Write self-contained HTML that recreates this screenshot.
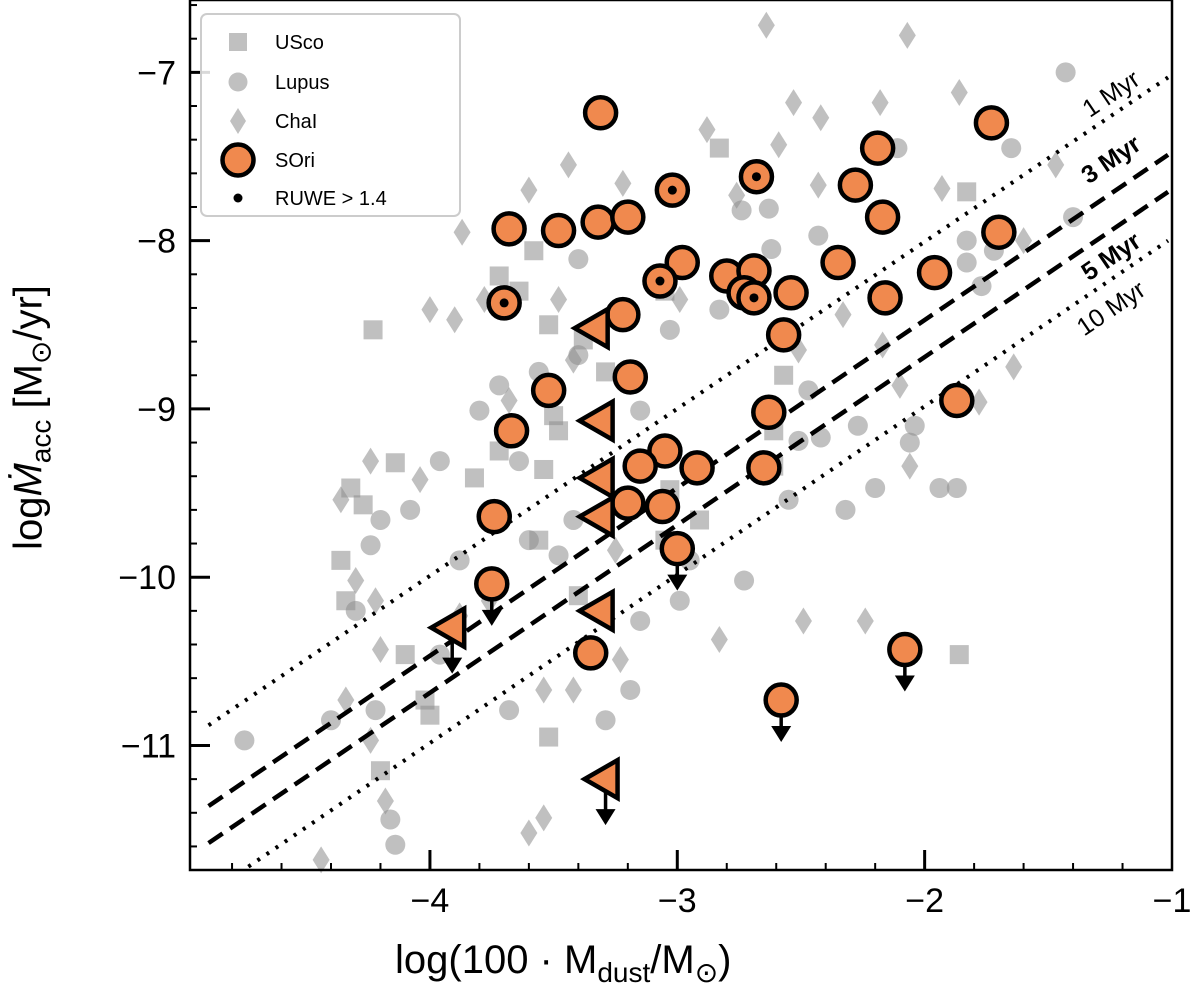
<!DOCTYPE html>
<html><head><meta charset="utf-8"><style>
body{margin:0;background:#fff;font-family:"Liberation Sans","DejaVu Sans",sans-serif}
svg{display:block}
</style></head><body>
<svg id="chart" width="1200" height="991" viewBox="0 0 1200 991" xmlns="http://www.w3.org/2000/svg">
<g id="gray"></g>
<g id="lines"></g>
<g id="orange"></g>
<g id="axes"></g>
<g id="legend"></g>
</svg>
<script>
const xDomain=[-4.97,-1], yDomain=[-11.74,-6.57];
const xTicks=[-4,-3,-2,-1], yTicks=[-7,-8,-9,-10,-11];
const uscoX=[-3.72,-3.58,-3.64,-3.52,-4.23,-3.50,-3.38,-3.29,-2.83,-3.05,-3.03,-3.05,-2.91,-2.57,-2.61,-2.61,-4.14,-4.32,-4.27,-4.36,-4.34,-4.10,-4.00,-4.20,-3.52,-3.40,-3.56,-3.48,-3.72,-3.82,-3.54,-4.02,-1.83,-1.86];
const uscoY=[-8.21,-8.06,-8.30,-8.50,-8.53,-9.04,-8.59,-8.78,-7.45,-8.30,-9.48,-9.78,-9.66,-8.80,-9.13,-9.34,-9.32,-9.47,-9.57,-9.90,-10.14,-10.46,-10.82,-11.15,-10.95,-10.11,-9.78,-9.13,-9.25,-9.41,-9.36,-10.73,-7.71,-10.46];
const lupusX=[-2.47,-2.51,-2.55,-2.73,-2.95,-3.15,-3.40,-3.56,-3.72,-3.80,-3.64,-3.96,-4.08,-4.20,-4.24,-3.88,-3.60,-3.42,-3.48,-3.15,-2.99,-3.19,-3.68,-3.96,-4.22,-4.40,-4.16,-4.14,-4.75,-4.30,-3.29,-2.43,-2.63,-2.83,-3.03,-3.40,-2.74,-2.62,-1.43,-2.11,-1.65,-1.40,-1.83,-1.83,-1.72,-1.77,-2.27,-2.42,-2.04,-2.06,-2.20,-2.32,-1.94,-1.87];
const lupusY=[-8.89,-9.19,-9.54,-10.02,-9.90,-9.01,-8.68,-8.78,-8.86,-9.01,-9.31,-9.31,-9.60,-9.66,-9.81,-9.90,-9.78,-9.66,-9.87,-10.26,-10.14,-10.67,-10.79,-10.46,-10.79,-10.85,-11.44,-11.59,-10.97,-10.20,-10.85,-7.97,-7.81,-8.41,-8.53,-8.11,-7.82,-8.05,-7.00,-7.45,-7.45,-7.86,-8.00,-8.13,-8.06,-8.27,-9.10,-9.17,-9.10,-9.20,-9.47,-9.60,-9.47,-9.47];
const chaX=[-2.64,-2.53,-2.42,-2.59,-2.76,-2.43,-2.88,-3.22,-3.44,-3.60,-3.87,-4.00,-3.90,-3.78,-3.48,-2.99,-2.33,-2.51,-3.42,-3.68,-4.04,-4.24,-4.36,-4.22,-4.30,-4.20,-4.24,-4.34,-4.18,-3.88,-3.76,-3.54,-3.42,-3.23,-3.60,-3.54,-2.83,-2.49,-3.25,-4.44,-2.07,-2.18,-1.86,-1.47,-1.93,-1.60,-2.17,-1.64,-2.10,-1.78,-2.06,-2.24];
const chaY=[-6.72,-7.18,-7.27,-7.43,-7.73,-7.67,-7.34,-7.66,-7.55,-7.70,-7.95,-8.41,-8.47,-8.35,-8.35,-8.35,-8.44,-8.65,-8.71,-8.95,-9.42,-9.31,-9.54,-10.14,-10.02,-10.43,-10.97,-10.73,-11.33,-10.23,-10.14,-10.67,-10.67,-10.49,-11.52,-11.43,-10.37,-10.26,-9.84,-11.68,-6.78,-7.18,-7.12,-7.55,-7.69,-8.00,-8.62,-8.75,-8.86,-8.96,-9.34,-10.26];
const soriX=[-3.31,-1.73,-2.19,-2.68,-3.02,-2.28,-2.17,-1.70,-3.68,-3.48,-3.32,-3.20,-2.98,-3.07,-2.80,-2.69,-2.73,-2.69,-2.54,-2.35,-1.96,-2.16,-3.70,-3.22,-2.57,-3.19,-3.52,-2.63,-3.67,-3.05,-3.15,-2.92,-2.65,-3.20,-3.06,-1.87,-3.74,-3.00,-3.75,-3.35,-2.08,-2.58];
const soriY=[-7.24,-7.30,-7.45,-7.62,-7.70,-7.67,-7.86,-7.95,-7.93,-7.94,-7.89,-7.86,-8.13,-8.24,-8.21,-8.18,-8.31,-8.34,-8.31,-8.13,-8.19,-8.34,-8.37,-8.44,-8.56,-8.81,-8.89,-9.02,-9.13,-9.25,-9.34,-9.35,-9.35,-9.56,-9.58,-8.95,-9.64,-9.83,-10.04,-10.45,-10.43,-10.73];
const soriRuwe=[0,0,0,1,1,0,0,0,0,0,0,0,0,1,0,0,0,1,0,0,0,0,1,0,0,0,0,0,0,0,0,0,0,0,0,0,0,0,0,0,0,0];
const soriUL=[0,0,0,0,0,0,0,0,0,0,0,0,0,0,0,0,0,0,0,0,0,0,0,0,0,0,0,0,0,0,0,0,0,0,0,0,0,1,1,0,1,1];
const triX=[-3.33,-3.31,-3.31,-3.31,-3.31,-3.91,-3.29];
const triY=[-8.52,-9.07,-9.41,-9.64,-10.20,-10.30,-11.20];
const triUL=[0,0,0,0,0,1,1];
const lineNames=["1 Myr","3 Myr","5 Myr","10 Myr"];
const lineX0=[-4.895,-4.895,-4.895,-4.734], lineY0=[-10.88,-11.36,-11.58,-11.72];
const lineX1=[-1.016,-1.016,-1.016,-1.016], lineY1=[-7.03,-7.49,-7.71,-8.00];

const L=190,R=1172,T=0,B=870;
const sx=v=>L+(v-xDomain[0])/(xDomain[1]-xDomain[0])*(R-L);
const sy=v=>B-(v-yDomain[0])/(yDomain[1]-yDomain[0])*(B-T);
const NS="http://www.w3.org/2000/svg";
function mk(tag,attrs,parent){const e=document.createElementNS(NS,tag);for(const k in attrs)e.setAttribute(k,attrs[k]);parent.appendChild(e);return e;}
const gray=document.getElementById('gray'),lines=document.getElementById('lines'),orange=document.getElementById('orange'),axes=document.getElementById('axes'),legend=document.getElementById('legend');
const GC="#8c8c8c",GO=0.55;
function square(x,y,p,s){return mk('rect',{x:x-s/2,y:y-s/2,width:s,height:s,fill:GC,'fill-opacity':GO},p);}
function diamond(x,y,p,w,h){return mk('polygon',{points:`${x},${y-h} ${x+w},${y} ${x},${y+h} ${x-w},${y}`,fill:GC,'fill-opacity':GO},p);}
uscoX.forEach((v,i)=>{const e=square(sx(v),sy(uscoY[i]),gray,19);

});
lupusX.forEach((v,i)=>{const e=mk('circle',{cx:sx(v),cy:sy(lupusY[i]),r:10,fill:GC,'fill-opacity':GO},gray);

});
chaX.forEach((v,i)=>{const e=diamond(sx(v),sy(chaY[i]),gray,8.5,13.5);

});
// lines
const dash=["3,8","17,9","17,9","3,8"];
const labOff=[-20,-32,28,31];
lineNames.forEach((n,i)=>{
 let x0=sx(lineX0[i]),y0=sy(lineY0[i]),x1=sx(lineX1[i]),y1=sy(lineY1[i]);
 const e=mk('line',{x1:x0,y1:y0,x2:x1,y2:y1,stroke:'#000','stroke-width':(i==1||i==2)?4.5:4,'stroke-dasharray':dash[i]},lines);
 
 
 const ang=Math.atan2(y1-y0,x1-x0)*180/Math.PI;
 const lx=1112, ly=y0+(y1-y0)*(lx-x0)/(x1-x0)+labOff[i];
 const t=mk('text',{x:lx,y:ly,'font-size':25,'text-anchor':'middle','dominant-baseline':'middle','font-weight':(i==1||i==2)?'bold':'normal',transform:`rotate(${ang} ${lx} ${ly})`},lines);
 t.textContent=n;
 
 
});
function arrow(x,y,p){
 mk('line',{x1:x,y1:y,x2:x,y2:y+30,stroke:'#000','stroke-width':3.5},p);
 mk('polygon',{points:`${x-10},${y+26} ${x+10},${y+26} ${x},${y+42}`,fill:'#000'},p);
}
const OR="#f0894e";
soriX.forEach((v,i)=>{const x=sx(v),y=sy(soriY[i]);
 if(soriUL[i])arrow(x,y,orange);
 const e=mk('circle',{cx:x,cy:y,r:15.5,fill:OR,stroke:'#000','stroke-width':4.5},orange);
 
 
 if(soriRuwe[i])mk('circle',{cx:x,cy:y,r:4.5,fill:'#000'},orange);
});
triX.forEach((v,i)=>{const x=sx(v),y=sy(triY[i]);
 if(triUL[i])arrow(x,y+4,orange);
 const e=mk('polygon',{points:`${x-21},${y} ${x+12},${y-19} ${x+12},${y+19}`,fill:OR,stroke:'#000','stroke-width':4.5,'stroke-linejoin':'miter'},orange);
 
 
});
// axes
mk('rect',{x:L,y:T,width:R-L,height:B-T,fill:'none',stroke:'#000','stroke-width':2.5},axes);
for(let k=0;k<=20;k++){const v=-5+k*0.2;const x=sx(v);if(x<L+1||x>R-1)continue;
 const maj=Math.abs(v-Math.round(v))<1e-6;
 mk('line',{x1:x,y1:B,x2:x,y2:B-(maj?20:7),stroke:'#000','stroke-width':maj?3:2},axes);}
for(let k=0;k<=30;k++){const v=-12+k*0.2;const y=sy(v);if(y<T+1||y>B-1)continue;
 const maj=Math.abs(v-Math.round(v))<1e-6;
 mk('line',{x1:L,y1:y,x2:L+(maj?20:7),y2:y,stroke:'#000','stroke-width':maj?3:2},axes);}
xTicks.forEach(v=>{const x=sx(v);
 const t=mk('text',{x:x,y:B+42,'font-size':34,'text-anchor':'middle'},axes);t.textContent='\u2212'+Math.abs(v);
 
 });
yTicks.forEach(v=>{const y=sy(v);
 const t=mk('text',{x:L-14,y:y+12,'font-size':34,'text-anchor':'end'},axes);t.textContent='\u2212'+Math.abs(v);
 
 });
// legend
mk('rect',{x:201,y:14,width:259,height:202,rx:6,fill:'#fff','fill-opacity':0.85,stroke:'#ccc','stroke-width':2},legend);
const labs=["USco","Lupus","ChaI","SOri","RUWE > 1.4"], ly=[42,82,121,160,198];
square(238,ly[0],legend,18);
mk('circle',{cx:238,cy:ly[1],r:9.5,fill:GC,'fill-opacity':GO},legend);
diamond(238,ly[2],legend,8,13);
mk('circle',{cx:238,cy:ly[3],r:15.5,fill:OR,stroke:'#000','stroke-width':4.5},legend);
mk('circle',{cx:238,cy:ly[4],r:4.5,fill:'#000'},legend);
labs.forEach((s,i)=>{const t=mk('text',{x:275,y:ly[i]+7,'font-size':20},legend);t.textContent=s;
 
 });
</script>
<div style="position:absolute;left:395px;top:938px;font-size:40px;white-space:nowrap">log(100 · M<sub style="font-size:28px">dust</sub>/M<sub style="font-size:28px">⊙</sub>)</div>
<div style="position:absolute;left:-168px;top:392px;width:400px;text-align:center;transform:rotate(-90deg);font-size:40px;white-space:nowrap">log<i>Ṁ</i><sub style="font-size:28px">acc</sub> [M<sub style="font-size:28px">⊙</sub>/yr]</div>
</body></html>
